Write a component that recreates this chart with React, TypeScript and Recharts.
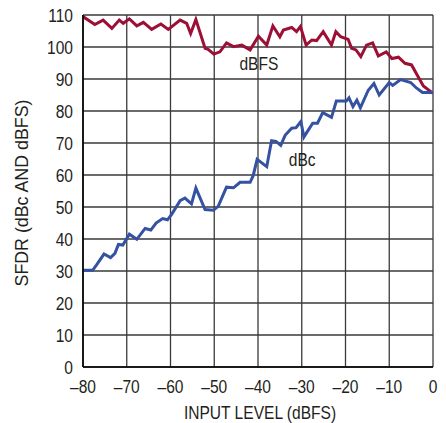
import { LineChart, Line, XAxis, YAxis, CartesianGrid, ReferenceDot, Label } from 'recharts';

// dBFS curve (red)
const dbfsLevel = [
  -80, -77.3, -75.4, -73.4, -71.7, -70.8, -69.4, -67.7, -66.2, -64.3, -62.2, -60.5, -57.8, -56.3,
  -55.4, -54.2, -52.1, -51.4, -50.1, -48.7, -47.2, -45.6, -43.7, -41.8, -39.9, -38, -36.6, -35,
  -34.2, -32.3, -31.2, -30.3, -29, -27.7, -26.6, -25.1, -23.2, -22.2, -21.1, -19.4, -18.6, -17.6,
  -16.5, -15.2, -13.8, -12.5, -10.7, -9.4, -7.9, -6.4, -4.9, -3.4, -2.2, 0,
];
const dbfsValue = [
  109.5, 107, 108.4, 105.8, 108.4, 107.4, 108.8, 106.6, 107.7, 105.5, 107.2, 105.5, 108.4, 107.4,
  104.2, 108.6, 99.6, 99.3, 97.8, 98.5, 101.3, 100.1, 100.6, 99.1, 103.4, 100.6, 106.6, 103.2,
  105.3, 106.1, 104.8, 106.4, 100.6, 102.2, 102, 104.8, 100.6, 104.8, 103.2, 102.4, 99.6, 99.1,
  97, 100.6, 101.3, 97.2, 98.5, 96.4, 96.8, 94.9, 94.4, 90.7, 87.8, 85.5,
];

// dBc curve (blue)
const dbcLevel = [
  -80, -77.8, -76.9, -75.2, -73.7, -72.7, -71.9, -70.9, -69.4, -67.7, -65.8, -64.5, -63.3, -61.8,
  -60.7, -59.7, -57.8, -56.7, -55.2, -54.2, -52.1, -50.2, -49.1, -47.2, -45.6, -44.1, -41.8, -41.1,
  -40.2, -38, -36.9, -35.9, -34.8, -33.8, -32.3, -31.3, -30.2, -29.5, -27.5, -26.4, -25.2, -23.2,
  -22.1, -19.8, -19.2, -18.3, -17.4, -16.6, -14.8, -13.5, -12.3, -10, -9.2, -7.4, -5.1, -3.8,
  -2.4, 0,
];
const dbcValue = [
  30.2, 30.2, 31.9, 35.3, 34.2, 35.5, 38.3, 38.1, 41.5, 39.9, 43.3, 42.8, 45, 46.4,
  46, 47.8, 52, 52.8, 51, 55.9, 49.2, 49, 50.2, 56.2, 56, 57.7, 57.7, 59.8,
  64.9, 62.6, 70.7, 70.5, 69.3, 72.4, 74.6, 74.8, 76.7, 71.9, 76.2, 76.2, 79.5, 78,
  83.1, 83.1, 84.1, 81.4, 83.4, 81, 86.5, 88.6, 85, 88.9, 88, 89.8, 88.9, 87.2,
  85.8, 85.8,
];

const xTicks = [-80, -70, -60, -50, -40, -30, -20, -10, 0];
const yTicks = [0, 10, 20, 30, 40, 50, 60, 70, 80, 90, 100, 110];

const dbfsData = dbfsLevel.map((x, i) => ({ x, y: dbfsValue[i] }));
const dbcData = dbcLevel.map((x, i) => ({ x, y: dbcValue[i] }));

const FONT = "'Liberation Sans', Arial, sans-serif";
const INK = '#231f20';
const SQUEEZE = 0.82; // the figure uses a condensed face

const fmt = (v: number) => (v < 0 ? '\u2013' + Math.abs(v) : String(v));

// text squeezed horizontally around its anchor point
const Narrow = ({ x, y, anchor = 'middle', dy = '0', children }: any) => (
  <text
    transform={`translate(${x} ${y}) scale(${SQUEEZE} 1)`}
    x={0}
    y={0}
    dy={dy}
    textAnchor={anchor}
    fontFamily={FONT}
    fontSize={19}
    fill={INK}
  >
    {children}
  </text>
);

const XTick = ({ x, y, payload }: any) => (
  <Narrow x={x} y={y} dy="0.71em">
    {fmt(payload.value)}
  </Narrow>
);

const YTick = ({ x, y, payload }: any) => (
  <Narrow x={x} y={y} dy="0.355em" anchor="end">
    {payload.value}
  </Narrow>
);

export default function App() {
  return (
    <div style={{ position: 'absolute', left: 0, top: 0, width: 446, height: 423 }}>
      <LineChart width={446} height={423} margin={{ top: 15, right: 13, left: 23, bottom: 0 }}>
        <CartesianGrid stroke="#3a3a3a" strokeWidth={1.3} />
        <XAxis
          type="number"
          dataKey="x"
          domain={[-80, 0]}
          ticks={xTicks}
          height={56}
          tickSize={0}
          tickMargin={13}
          tick={<XTick />}
          axisLine={{ stroke: '#000', strokeWidth: 1.6 }}
          allowDataOverflow
        >
          <Label content={() => <Narrow x={260} y={419}>INPUT LEVEL (dBFS)</Narrow>} />
        </XAxis>
        <YAxis
          type="number"
          domain={[0, 110]}
          ticks={yTicks}
          width={60}
          tickSize={0}
          tickMargin={10}
          tick={<YTick />}
          axisLine={{ stroke: '#000', strokeWidth: 1.6 }}
        >
          <Label
            content={() => (
              <text
                x={28}
                y={193}
                transform="rotate(-90 28 193)"
                textAnchor="middle"
                fontFamily={FONT}
                fontSize={19}
                fill={INK}
                textLength={187}
                lengthAdjust="spacingAndGlyphs"
              >
                SFDR (dBc AND dBFS)
              </text>
            )}
          />
        </YAxis>
        <Line
          data={dbfsData}
          dataKey="y"
          type="linear"
          stroke="#9c1035"
          strokeWidth={3}
          dot={false}
          isAnimationActive={false}
        />
        <Line
          data={dbcData}
          dataKey="y"
          type="linear"
          stroke="#3552a2"
          strokeWidth={3}
          dot={false}
          isAnimationActive={false}
        />
        <ReferenceDot
          x={-39.8}
          y={94.8}
          r={0}
          stroke="none"
          label={(p: any) => (
            <Narrow x={p.viewBox.x + p.viewBox.width / 2} y={p.viewBox.y + p.viewBox.height / 2} dy="0.355em">
              dBFS
            </Narrow>
          )}
        />
        <ReferenceDot
          x={-29.9}
          y={64.9}
          r={0}
          stroke="none"
          label={(p: any) => (
            <Narrow x={p.viewBox.x + p.viewBox.width / 2} y={p.viewBox.y + p.viewBox.height / 2} dy="0.355em">
              dBc
            </Narrow>
          )}
        />
      </LineChart>
    </div>
  );
}
